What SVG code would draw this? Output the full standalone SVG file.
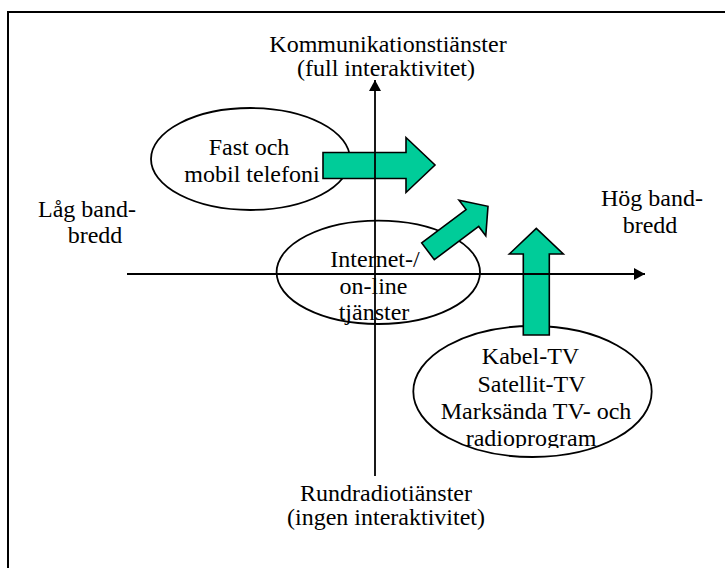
<svg xmlns="http://www.w3.org/2000/svg" width="725" height="568" viewBox="0 0 725 568">
<style>
  .t { font-family: "Liberation Serif", "Times New Roman", serif; font-size: 24px; fill: #000; text-anchor: middle; }
  .ell { fill: #fff; stroke: #000; stroke-width: 1.8; }
  .garrow { fill: #00CC99; stroke: #000; stroke-width: 1.6; stroke-linejoin: miter; }
  .axis { stroke: #000; stroke-width: 1.8; fill: none; }
</style>
<defs>
  <marker id="ah" viewBox="0 0 11 12" refX="11" refY="6" markerWidth="11" markerHeight="12" markerUnits="userSpaceOnUse" orient="auto">
    <path d="M0,0 L11,6 L0,12 Z" fill="#000"/>
  </marker>
  <clipPath id="clip3"><rect x="400" y="330" width="260" height="118"/></clipPath>
</defs>
<rect width="725" height="568" fill="#fff"/>
<rect id="frame" x="8" y="12" width="760" height="600" fill="none" stroke="#000" stroke-width="2"/>

<g id="label-top">
  <text class="t" x="388" y="52">Kommunikationstiänster</text>
  <text class="t" x="386" y="76">(full interaktivitet)</text>
</g>
<g id="label-bottom">
  <text class="t" x="386" y="501">Rundradiotiänster</text>
  <text class="t" x="386" y="525">(ingen interaktivitet)</text>
</g>
<g id="label-left">
  <text class="t" x="87" y="217">Låg band-</text>
  <text class="t" x="95" y="243">bredd</text>
</g>
<g id="label-right">
  <text class="t" x="652" y="206">Hög band-</text>
  <text class="t" x="650" y="233">bredd</text>
</g>

<g id="node-telefoni">
  <ellipse class="ell" cx="250.5" cy="159" rx="99.5" ry="51"/>
  <text class="t" x="249" y="155">Fast och</text>
  <text class="t" x="252" y="182">mobil telefoni</text>
</g>
<g id="node-internet">
  <ellipse class="ell" cx="378.3" cy="272.3" rx="101.7" ry="51.7"/>
  <text class="t" x="375" y="267">Internet-/</text>
  <text class="t" x="373.5" y="293.5">on-line</text>
  <text class="t" x="374" y="319.5">tjänster</text>
</g>
<g id="node-tv">
  <ellipse class="ell" cx="532.5" cy="391.5" rx="119.2" ry="65.5"/>
  <g clip-path="url(#clip3)">
    <text class="t" x="530.5" y="364">Kabel-TV</text>
    <text class="t" x="531.5" y="392">Satellit-TV</text>
    <text class="t" x="536" y="418.5">Marksända TV- och</text>
    <text class="t" x="531" y="446">radioprogram</text>
  </g>
</g>

<g id="arrow-telefoni">
  <polygon class="garrow" points="323,152.5 406,152.5 406,137.5 435,165 406,192.5 406,178.5 323,178.5"/>
</g>
<g id="arrow-internet">
  <polygon class="garrow" transform="translate(428,251.3) rotate(-36.87)" points="0,-10.5 55.5,-10.5 55.5,-22.3 75,0 55.5,22.3 55.5,10.5 0,10.5"/>
</g>
<g id="arrow-tv">
  <polygon class="garrow" points="523.3,335 523.3,254 509.3,254 536.3,228.3 563.3,254 549.3,254 549.3,335"/>
</g>

<g id="connectors">
  <line class="axis" x1="375" y1="476" x2="375" y2="80" marker-end="url(#ah)"/>
  <line class="axis" x1="127" y1="274" x2="645" y2="274" marker-end="url(#ah)"/>
</g>
</svg>
